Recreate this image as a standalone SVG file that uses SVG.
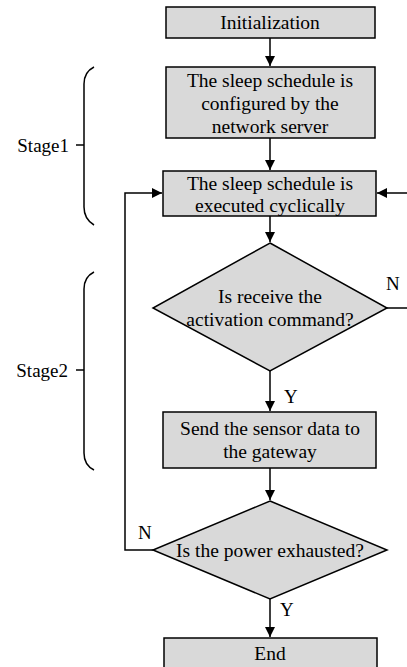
<svg xmlns="http://www.w3.org/2000/svg" width="407" height="667" viewBox="0 0 407 667">
<defs>
<style>
.box{fill:#d9d9d9;stroke:#000;stroke-width:1.5}
.t{font-family:"Liberation Serif","Times New Roman",serif;font-size:19.5px;fill:#000;text-anchor:middle}
.tl{font-family:"Liberation Serif","Times New Roman",serif;font-size:19px;fill:#000}
.te{font-family:"Liberation Serif","Times New Roman",serif;font-size:19px;fill:#000;text-anchor:end}
.ln{fill:none;stroke:#000;stroke-width:1.5}
</style>
<marker id="ah" markerWidth="10" markerHeight="10" refX="10" refY="5" orient="auto" markerUnits="userSpaceOnUse" viewBox="0 0 10 10">
<path d="M0,0 L10,5 L0,10 z" fill="#000"/>
</marker>
</defs>
<rect width="407" height="667" fill="#fff"/>
<g id="connectors">
<line class="ln" x1="270" y1="38" x2="270" y2="66" marker-end="url(#ah)"/>
<line class="ln" x1="270" y1="138" x2="270" y2="170" marker-end="url(#ah)"/>
<line class="ln" x1="270" y1="216" x2="270" y2="242" marker-end="url(#ah)"/>
<line class="ln" x1="270" y1="371" x2="270" y2="411" marker-end="url(#ah)"/>
<line class="ln" x1="270" y1="468" x2="270" y2="500" marker-end="url(#ah)"/>
<line class="ln" x1="270" y1="599" x2="270" y2="637" marker-end="url(#ah)"/>
<polyline class="ln" points="153,550 125,550 125,193 162,193" marker-end="url(#ah)"/>
<polyline class="ln" points="387,308 408,308 408,193 377,193" marker-end="url(#ah)"/>
<text class="tl" x="386" y="290">N</text>
<text class="tl" x="284" y="403">Y</text>
<text class="tl" x="138" y="539">N</text>
<text class="tl" x="280" y="616">Y</text>
</g>
<g id="stage1">
<path class="ln" d="M94,67 Q84,72 84,84 L84,207 Q84,219 94,225"/>
<line class="ln" x1="76" y1="145" x2="84" y2="145"/>
<text class="te" x="69" y="152">Stage1</text>
</g>
<g id="stage2">
<path class="ln" d="M94,272 Q84,277 84,289 L84,453 Q84,465 94,470"/>
<line class="ln" x1="76" y1="370" x2="84" y2="370"/>
<text class="te" x="68" y="377">Stage2</text>
</g>
<g id="init">
<rect class="box" x="166" y="7" width="209" height="31"/>
<text class="t" x="270" y="29">Initialization</text>
</g>
<g id="configure">
<rect class="box" x="166" y="67" width="209" height="71"/>
<text class="t" x="270" y="87">The sleep schedule is</text>
<text class="t" x="270" y="110">configured by the</text>
<text class="t" x="270" y="133">network server</text>
</g>
<g id="execute">
<rect class="box" x="163" y="171" width="213" height="45"/>
<text class="t" x="270" y="190">The sleep schedule is</text>
<text class="t" x="270" y="212">executed cyclically</text>
</g>
<g id="activation">
<polygon class="box" points="270,243 387,308 270,371 153,308"/>
<text class="t" x="270" y="303">Is receive the</text>
<text class="t" x="270" y="326">activation command?</text>
</g>
<g id="send">
<rect class="box" x="163" y="412" width="213" height="56"/>
<text class="t" x="270" y="435">Send the sensor data to</text>
<text class="t" x="270" y="458">the gateway</text>
</g>
<g id="power">
<polygon class="box" points="270,501 387,550 270,599 153,550"/>
<text class="t" x="270" y="557">Is the power exhausted?</text>
</g>
<g id="end">
<rect class="box" x="164" y="638" width="213" height="35"/>
<text class="t" x="270" y="660">End</text>
</g>
</svg>
